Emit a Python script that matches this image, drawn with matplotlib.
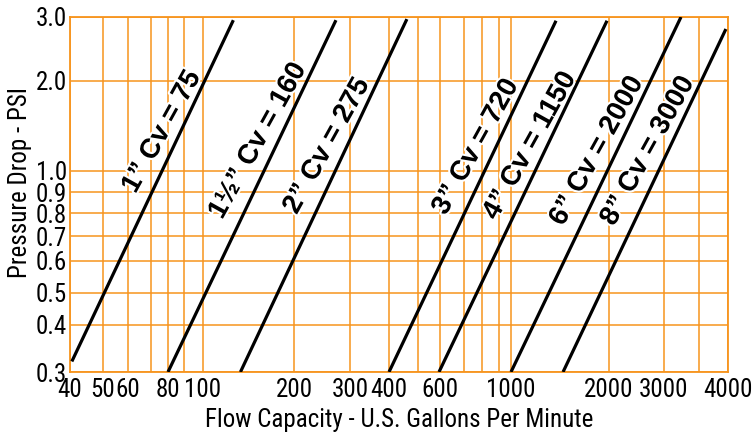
import numpy as np
import matplotlib
matplotlib.use('Agg')
import matplotlib.pyplot as plt
import matplotlib.patheffects as pe
from matplotlib.ticker import FixedLocator, FixedFormatter, NullLocator

# Valve sizes and flow coefficients
sizes = ['1\u201d', '1\u00bd\u201d', '2\u201d', '3\u201d', '4\u201d', '6\u201d', '8\u201d']
cv = [75, 160, 275, 720, 1150, 2000, 3000]

# Line end points (GPM, PSI)
flow_low = [40.5, 80, 133, 400, 595, 1000, 1445]
flow_high = [126, 271, 459, 1375, 1972, 3450, 4920]
psi_low = [0.32, 0.3, 0.3, 0.3, 0.3, 0.3, 0.3]
psi_high = [2.94, 2.94, 2.96, 2.93, 2.93, 3.0, 2.78]

# Grid values and tick labels
x_grid = [40, 50, 60, 70, 80, 90, 100, 200, 300, 400, 500, 600, 700, 800, 900,
          1000, 2000, 3000, 4000, 5000]
x_labels = ['40', '50', '60', '', '80', '', '100', '200', '300', '400', '', '600',
            '', '', '', '1000', '2000', '3000', '', '']
y_grid = [0.3, 0.4, 0.5, 0.6, 0.7, 0.8, 0.9, 1.0, 2.0, 3.0]
y_labels = ['0.3', '0.4', '0.5', '0.6', '0.7', '0.8', '0.9', '1.0', '2.0', '3.0']

# The printed chart's grid is hand-ruled, so the scale follows its spacing
x_px = [70, 103, 128, 151, 168, 184, 203, 294, 350, 389, 418, 440, 464, 482, 499,
        511, 609, 664, 699, 728]
y_px = [60, 107, 139, 171, 196, 219, 240, 261, 351, 415]


def make_scale(vals, px):
    lv = np.log10(vals)
    px = np.asarray(px, float)

    def fwd(v):
        return np.interp(np.log10(np.clip(v, 1e-9, None)), lv, px)

    def inv(p):
        return 10 ** np.interp(p, px, lv)
    return fwd, inv


orange = '#F7941D'
narrow = ['Roboto Condensed', 'DejaVu Sans']

fig = plt.figure(figsize=(7.54, 4.32), dpi=100)
ax = fig.add_axes([70 / 754, 1 - 372 / 432, 658 / 754, 355 / 432])

ax.set_xscale('function', functions=make_scale(x_grid, x_px))
ax.set_yscale('function', functions=make_scale(y_grid, y_px))
ax.set_xlim(40, 5000)
ax.set_ylim(0.3, 3.0)

ax.xaxis.set_major_locator(FixedLocator(x_grid))
ax.xaxis.set_major_formatter(FixedFormatter(x_labels))
ax.yaxis.set_major_locator(FixedLocator(y_grid))
ax.yaxis.set_major_formatter(FixedFormatter(y_labels))
ax.xaxis.set_minor_locator(NullLocator())
ax.yaxis.set_minor_locator(NullLocator())

ax.grid(True, color=orange, linewidth=1.1)
for s in ax.spines.values():
    s.set_color(orange)
    s.set_linewidth(1.3)
ax.tick_params(length=0, labelsize=18)
ax.tick_params(axis='x', pad=4)
ax.tick_params(axis='y', pad=2)
for lab in ax.get_xticklabels() + ax.get_yticklabels():
    lab.set_family(narrow)

# the printed "4000" sits at the right edge of the grid, not on its line
ax.text(1.0, -0.017, '4000', transform=ax.transAxes, ha='center', va='top',
        fontsize=18, family=narrow)

for i in range(len(cv)):
    ax.plot([flow_low[i], flow_high[i]], [psi_low[i], psi_high[i]],
            color='black', linewidth=2.3, solid_capstyle='butt', zorder=3)

# label centres, in axes fraction
label_pos = [(0.1398, 0.6761), (0.2857, 0.6507), (0.3906, 0.6366), (0.6170, 0.6338),
             (0.6991, 0.6366), (0.8009, 0.6225), (0.8784, 0.6225)]
for i in range(len(cv)):
    ax.text(label_pos[i][0], label_pos[i][1], f'{sizes[i]} Cv = {cv[i]}',
            transform=ax.transAxes, rotation=61, rotation_mode='anchor',
            ha='center', va='center', fontsize=20, fontweight='bold',
            family=['Liberation Sans', 'DejaVu Sans'], zorder=4,
            path_effects=[pe.withStroke(linewidth=3, foreground='white')])

ax.set_xlabel('Flow Capacity - U.S. Gallons Per Minute', fontsize=18, family=narrow)
ax.set_ylabel('Pressure Drop - PSI', fontsize=18, family=narrow)
ax.xaxis.set_label_coords(0.5, -0.1)
ax.yaxis.set_label_coords(-0.058, 0.535)

fig.savefig('out.png', dpi=100)
